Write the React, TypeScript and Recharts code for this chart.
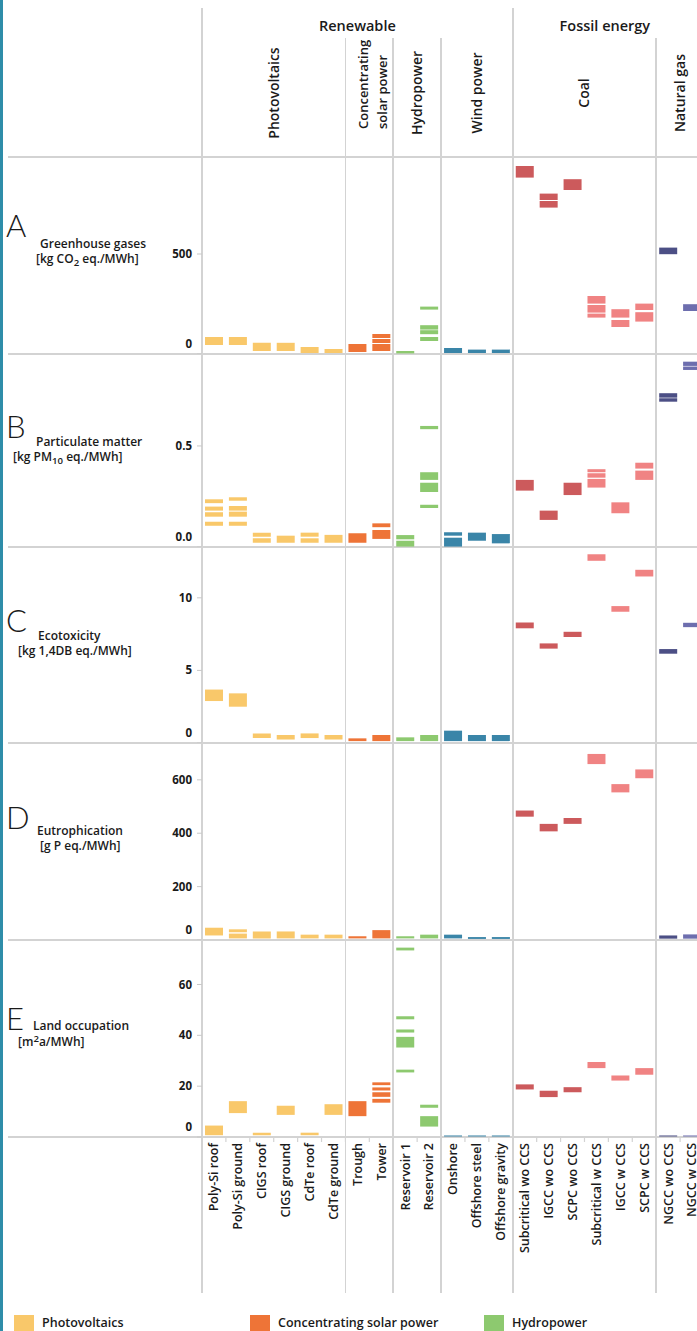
/**
 * Environmental impact ranges per power technology (five indicator panels)
 */

import React from 'react';
import { BarChart, Bar, XAxis, YAxis, Cell } from 'recharts';

type Band = number[];

const CATEGORIES = [
  'Poly-Si roof', 'Poly-Si ground', 'CIGS roof', 'CIGS ground', 'CdTe roof', 'CdTe ground',
  'Trough', 'Tower',
  'Reservoir 1', 'Reservoir 2',
  'Onshore', 'Offshore steel', 'Offshore gravity',
  'Subcritical wo CCS', 'IGCC wo CCS', 'SCPC wo CCS', 'Subcritical w CCS', 'IGCC w CCS', 'SCPC w CCS',
  'NGCC wo CCS', 'NGCC w CCS',
];

// colour key of each category, same order as CATEGORIES
const CATEGORY_KIND = [
  'pv', 'pv', 'pv', 'pv', 'pv', 'pv',
  'csp', 'csp',
  'hydro', 'hydro',
  'wind', 'wind', 'wind',
  'coalWo', 'coalWo', 'coalWo', 'coalW', 'coalW', 'coalW',
  'ngWo', 'ngW',
];

const KIND_COLORS: Record<string, string> = {
  pv: '#F9C86A',
  csp: '#EE7437',
  hydro: '#8DC96F',
  wind: '#3A85A8',
  coalWo: '#CC5A5C',
  coalW: '#F08383',
  ngWo: '#4C4F85',
  ngW: '#6D6EAE',
};

const GROUPS = [
  { label: 'Renewable', start: 0, end: 13 },
  { label: 'Fossil energy', start: 13, end: 21 },
];

const SUBGROUPS = [
  { label: ['Photovoltaics'], start: 0, end: 6 },
  { label: ['Concentrating', 'solar power'], start: 6, end: 8 },
  { label: ['Hydropower'], start: 8, end: 10 },
  { label: ['Wind power'], start: 10, end: 13 },
  { label: ['Coal'], start: 13, end: 19 },
  { label: ['Natural gas'], start: 19, end: 21 },
];

// [low, high] ranges per category (several results per technology)
const GHG: Band[][] = [
  [[45, 85]], [[45, 85]], [[15, 56]], [[15, 56]], [[5, 35]], [[5, 25]],
  [[10, 50]], [[80, 100], [55, 75], [15, 50]],
  [[3, 15]], [[222, 237], [122, 144], [99, 119], [65, 85]],
  [[5, 30]], [[5, 22]], [[5, 22]],
  [[882, 940]], [[770, 802], [732, 765]], [[820, 874]],
  [[252, 290], [207, 245], [182, 202]], [[182, 224], [135, 170]], [[220, 252], [162, 209]],
  [[499, 532]], [[215, 249]],
];

const PM: Band[][] = [
  [[0.217, 0.236], [0.18, 0.2], [0.15, 0.172], [0.105, 0.125]],
  [[0.229, 0.246], [0.18, 0.203], [0.15, 0.175], [0.105, 0.125]],
  [[0.051, 0.071], [0.021, 0.043]], [[0.021, 0.056]],
  [[0.051, 0.071], [0.021, 0.043]], [[0.021, 0.06]],
  [[0.021, 0.068]], [[0.098, 0.117], [0.04, 0.084]],
  [[0.038, 0.059], [0.002, 0.031]], [[0.583, 0.599], [0.332, 0.37], [0.272, 0.318], [0.193, 0.209]],
  [[0.056, 0.073], [0.002, 0.046]], [[0.031, 0.071]], [[0.018, 0.064]],
  [[0.279, 0.332]], [[0.134, 0.18]], [[0.257, 0.318]],
  [[0.37, 0.385], [0.343, 0.365], [0.294, 0.337]], [[0.167, 0.221]], [[0.388, 0.417], [0.332, 0.378]],
  [[0.739, 0.761], [0.719, 0.736]], [[0.896, 0.917], [0.876, 0.893]],
];

const ECO: Band[][] = [
  [[2.89, 3.68]], [[2.5, 3.42]], [[0.34, 0.66]], [[0.24, 0.55]], [[0.34, 0.66]], [[0.24, 0.55]],
  [[0.13, 0.32]], [[0.13, 0.55]],
  [[0.13, 0.39]], [[0.13, 0.55]],
  [[0.13, 0.85]], [[0.13, 0.55]], [[0.13, 0.55]],
  [[7.9, 8.3]], [[6.5, 6.86]], [[7.3, 7.66]],
  [[12.55, 13.0]], [[9.04, 9.43]], [[11.47, 11.93]],
  [[6.15, 6.47]], [[7.98, 8.28]],
];

const EUT: Band[][] = [
  [[17, 46]], [[29, 40], [6, 24]], [[6, 32]], [[6, 32]], [[6, 20]], [[6, 20]],
  [[6, 14]], [[6, 37]],
  [[6, 14]], [[6, 20]],
  [[6, 20]], [[4, 11]], [[4, 11]],
  [[462, 485]], [[407, 435]], [[435, 457]],
  [[659, 697]], [[553, 584]], [[606, 639]],
  [[5, 17]], [[5, 21]],
];

const LAND: Band[][] = [
  [[0.7, 4.5]], [[9.4, 14.1]], [[0.7, 1.7]], [[8.7, 12.3]], [[0.7, 1.7]], [[8.7, 12.9]],
  [[8.2, 14.1]], [[20.4, 21.5], [18.3, 19.5], [15.8, 17.6], [13.5, 15.0]],
  [[73.4, 74.5], [46.3, 47.5], [41.1, 42.3], [35.2, 39.4], [25.4, 26.5]],
  [[11.5, 12.7], [4.1, 8.2]],
  [[0.2, 0.6]], [[0.2, 0.6]], [[0.2, 0.6]],
  [[18.7, 20.7]], [[15.7, 18.2]], [[17.6, 19.6]],
  [[27.1, 29.5]], [[22.2, 24.2]], [[24.5, 27.1]],
  [[0.2, 0.6]], [[0.2, 0.6]],
];

const GHG_TICKS = [0, 500];
const PM_TICKS = [0, 0.5];
const ECO_TICKS = [0, 5, 10];
const EUT_TICKS = [0, 200, 400, 600];
const LAND_TICKS = [0, 20, 40, 60];

const LEGEND = [
  { label: 'Photovoltaics', kind: 'pv', x: 14 },
  { label: 'Concentrating solar power', kind: 'csp', x: 250 },
  { label: 'Hydropower', kind: 'hydro', x: 484 },
];

const FONT = '"Open Sans", sans-serif';
const PAGE_W = 697;
const PAGE_H = 1331;
const PLOT_LEFT = 202;
const PLOT_W = 502;
const CHART_W = 720; // runs past the right edge, cropped like the source
const BAND = PLOT_W / CATEGORIES.length;
const FOOTER_H = 156;
const LINE = '#d3d3d3';
const SLOT_KEYS = ['s0', 's1', 's2', 's3', 's4'];

const sub = (t: string) => (
  <span style={{ fontSize: '0.8em', verticalAlign: '-0.3em', lineHeight: 0 }}>{t}</span>
);
const sup = (t: string) => (
  <span style={{ fontSize: '0.8em', verticalAlign: '0.45em', lineHeight: 0 }}>{t}</span>
);

const PANELS = [
  {
    letter: 'A', title: 'Greenhouse gases', unit: <>[kg CO{sub('2')} eq./MWh]</>,
    top: 157, height: 197, domain: [0, 985], ticks: GHG_TICKS, bands: GHG,
    fmt: (v: number) => String(v), letterY: 215, titleY: 240, unitY: 255, titleX: 40, unitX: 36,
  },
  {
    letter: 'B', title: 'Particulate matter', unit: <>[kg PM{sub('10')} eq./MWh]</>,
    top: 354, height: 193, domain: [0, 0.955], ticks: PM_TICKS, bands: PM,
    fmt: (v: number) => v.toFixed(1), letterY: 416, titleY: 438, unitY: 453, titleX: 36, unitX: 13,
  },
  {
    letter: 'C', title: 'Ecotoxicity', unit: <>[kg 1,4DB eq./MWh]</>,
    top: 547, height: 196, domain: [0, 13.5], ticks: ECO_TICKS, bands: ECO,
    fmt: (v: number) => String(v), letterY: 610, titleY: 632, unitY: 647, titleX: 38, unitX: 18,
  },
  {
    letter: 'D', title: 'Eutrophication', unit: <>[g P eq./MWh]</>,
    top: 743, height: 197, domain: [0, 738], ticks: EUT_TICKS, bands: EUT,
    fmt: (v: number) => String(v), letterY: 807, titleY: 827, unitY: 842, titleX: 37, unitX: 40,
  },
  {
    letter: 'E', title: 'Land occupation', unit: <>[m{sup('2')}a/MWh]</>,
    top: 940, height: 197, domain: [0, 77.5], ticks: LAND_TICKS, bands: LAND,
    fmt: (v: number) => String(v), letterY: 1008, titleY: 1022, unitY: 1038, titleX: 33, unitX: 18,
  },
];

function rowsFor(bands: Band[][]) {
  return CATEGORIES.map((name, i) => {
    const row: Record<string, unknown> = { name };
    bands[i].forEach((b, k) => {
      row[SLOT_KEYS[k]] = b;
    });
    return row;
  });
}

const ValueTick = (props: any) => {
  const { x, y, payload, fmt } = props;
  // the zero label sits a little above the panel's bottom rule
  const lift = payload.value === 0 ? -10 : 0;
  return (
    <text x={x} y={y + lift} dy="0.35em" textAnchor="end" fontFamily={FONT}
      fontSize={11.5} fontWeight={700} fill="#1a1a1a">
      {fmt(payload.value)}
    </text>
  );
};

const CategoryTick = (props: any) => {
  const { x, y, payload } = props;
  const ty = y + 6;
  return (
    <g>
      <line x1={x - BAND / 2} x2={x - BAND / 2} y1={y} y2={y + 5} stroke={LINE} strokeWidth={1.2} />
      <text x={x} y={ty} dy="0.35em" transform={`rotate(-90 ${x} ${ty})`} textAnchor="end"
        fontFamily={FONT} fontSize={12.5} fontWeight={600} fill="#1a1a1a">
        {payload.value}
      </text>
    </g>
  );
};

function Panel({ p, last }: { p: (typeof PANELS)[number]; last: boolean }) {
  const rows = rowsFor(p.bands);
  const h = p.height + (last ? FOOTER_H : 0);
  return (
    <div style={{ position: 'absolute', left: 0, top: p.top, width: CHART_W, height: h }}>
      <BarChart
        width={CHART_W}
        height={h}
        data={rows}
        margin={{ top: 0, right: CHART_W - PLOT_LEFT - PLOT_W, bottom: 0, left: 0 }}
        barSize={18}
        barGap={-18}
      >
        <XAxis
          dataKey="name"
          hide={!last}
          height={last ? FOOTER_H : 0}
          axisLine={false}
          tickLine={false}
          tickSize={0}
          tickMargin={0}
          interval={0}
          tick={<CategoryTick />}
        />
        <YAxis
          width={PLOT_LEFT}
          domain={p.domain}
          ticks={p.ticks}
          interval={0}
          allowDataOverflow
          axisLine={false}
          tickSize={5}
          tickMargin={5}
          tickLine={{ stroke: '#c9c9c9' }}
          tick={<ValueTick fmt={p.fmt} />}
        />
        {SLOT_KEYS.map((k) => (
          <Bar key={k} dataKey={k} isAnimationActive={false}>
            {rows.map((_, i) => (
              <Cell key={`cell-${i}`} fill={KIND_COLORS[CATEGORY_KIND[i]]} />
            ))}
          </Bar>
        ))}
      </BarChart>
    </div>
  );
}

function Header() {
  const xAt = (i: number) => PLOT_LEFT + i * BAND;
  return (
    <svg width={PAGE_W} height={157} style={{ position: 'absolute', left: 0, top: 0 }}>
      {GROUPS.map((g) => {
        const cx = (xAt(g.start) + Math.min(xAt(g.end), PAGE_W)) / 2;
        return (
          <text key={g.label} x={cx} y={31} textAnchor="middle" fontFamily={FONT}
            fontSize={14.5} fontWeight={600} fill="#1a1a1a">
            {g.label}
          </text>
        );
      })}
      {SUBGROUPS.map((g) => {
        const cx = (xAt(g.start) + xAt(g.end)) / 2;
        if (g.label.length === 2) {
          return g.label.map((line, j) => {
            const lx = cx - 6 + j * 19;
            return (
              <text key={line} x={lx} y={129} dy="0.35em" transform={`rotate(-90 ${lx} 129)`}
                textAnchor="start" fontFamily={FONT} fontSize={13} fontWeight={600} fill="#1a1a1a">
                {line}
              </text>
            );
          });
        }
        return (
          <text key={g.label[0]} x={cx} y={93} dy="0.35em" transform={`rotate(-90 ${cx} 93)`}
            textAnchor="middle" fontFamily={FONT} fontSize={14} fontWeight={600} fill="#1a1a1a">
            {g.label[0]}
          </text>
        );
      })}
    </svg>
  );
}

export default function App() {
  const rules = [157, 354, 547, 743, 940, 1137];
  const dividers = SUBGROUPS.map((g) => ({
    x: PLOT_LEFT + g.start * BAND,
    top: g.start === 0 || g.start === 13 ? 8 : 38,
  }));
  return (
    <div
      style={{
        position: 'absolute',
        left: 0,
        top: 0,
        width: PAGE_W,
        height: PAGE_H,
        overflow: 'hidden',
        background: '#fff',
        fontFamily: FONT,
        color: '#1a1a1a',
      }}
    >
      {/* teal frame edge on the left */}
      <div style={{ position: 'absolute', left: 0, top: 0, width: 3, height: PAGE_H, background: '#2E8DA9' }} />

      {dividers.map((d) => (
        <div key={d.x} style={{ position: 'absolute', left: d.x - 0.75, top: d.top, width: 1.5, height: 1293 - d.top, background: LINE }} />
      ))}
      {rules.map((y) => (
        <div key={y} style={{ position: 'absolute', left: 8, top: y - 0.75, width: PAGE_W - 8, height: 1.5, background: LINE }} />
      ))}

      <Header />

      {PANELS.map((p, i) => (
        <Panel key={p.letter} p={p} last={i === PANELS.length - 1} />
      ))}

      {PANELS.map((p) => (
        <React.Fragment key={`t-${p.letter}`}>
          <div style={{ position: 'absolute', left: 6, top: p.letterY - 5, fontFamily: 'Lato, sans-serif', fontWeight: 300, fontSize: 31, lineHeight: 1 }}>
            {p.letter}
          </div>
          <div style={{ position: 'absolute', left: p.titleX, top: p.titleY - 2, fontSize: 12, fontWeight: 600, lineHeight: 1, whiteSpace: 'nowrap' }}>
            {p.title}
          </div>
          <div style={{ position: 'absolute', left: p.unitX, top: p.unitY - 2, fontSize: 12, fontWeight: 600, lineHeight: 1, whiteSpace: 'nowrap' }}>
            {p.unit}
          </div>
        </React.Fragment>
      ))}

      {LEGEND.map((l) => (
        <React.Fragment key={l.label}>
          <div style={{ position: 'absolute', left: l.x, top: 1315, width: 20, height: 20, background: KIND_COLORS[l.kind] }} />
          <div style={{ position: 'absolute', left: l.x + 28, top: 1317, fontSize: 12.5, fontWeight: 600, lineHeight: 1, whiteSpace: 'nowrap' }}>
            {l.label}
          </div>
        </React.Fragment>
      ))}
    </div>
  );
}
